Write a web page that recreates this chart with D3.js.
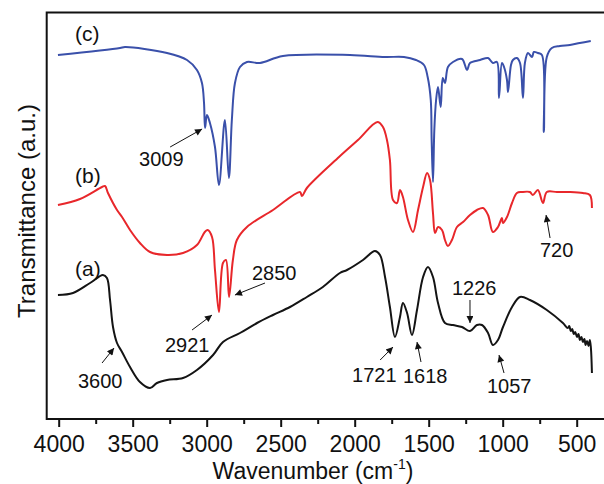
<!DOCTYPE html>
<html>
<head>
<meta charset="utf-8">
<script src="https://cdn.jsdelivr.net/npm/d3@7"></script>
<style>
  html, body { margin: 0; padding: 0; background: #fff; }
  svg { display: block; font-family: "Liberation Sans", Arial, sans-serif; }
</style>
</head>
<body>
<svg id="chart" width="604" height="484"></svg>
<script>
// ---------- DATA ----------
// x tick labels (wavenumber, cm-1)
const majorTicks = [4000, 3500, 3000, 2500, 2000, 1500, 1000, 500];
const minorTicks = [3750, 3250, 2750, 2250, 1750, 1250, 750];

// Series (c) – blue
const waveC = [4005,3586,3552,3268,3133,3066,3032,3018,3011,2998,2978,2944,2917,2877,2850,2830,2809,2775,2728,2640,2485,2032,
  1796,1667,1586,1532,1507,1486,1480,1471,1462,1450,1437,1419,1405,1390,1370,1336,1275,1241,1221,1153,1099,1066,1039,1025,1005,991,971,964,944,931,904,883,863,850,829,802,789,762,735,722,702,668,614,546,479,405];
const transC = [364,371,372,366,359,349,336,316,291,304,296,272,234,299,241,299,336,352,357,356,363,364,
  362,362,359,354,342,319,279,237,289,319,332,312,341,336,352,357,360,349,356,359,361,356,357,321,356,352,339,327,354,359,361,356,321,356,366,362,367,366,364,287,362,371,373,374,376,378];

// Series (b) – red
const waveB = [4005,3856,3707,3687,3667,3606,3572,3518,3451,3383,3268,3160,3066,3013,2993,2964,2944,2917,2890,2870,2849,2823,2796,2728,2552,2370,2356,2323,2106,1978,1846,1809,1782,1762,1741,1714,1694,1674,1640,1606,1572,1538,1511,1491,1471,1457,1437,1410,1390,1370,1343,1309,1268,1221,1174,1133,1099,1066,1032,1005,998,971,937,904,870,816,796,762,728,702,634,546,458,411,397];
const transB = [214,220,232,233,226,209,202,189,176,167,164,166,174,187,189,182,149,107,156,159,122,159,179,192,209,227,223,231,262,279,297,292,279,259,219,216,229,222,199,187,209,232,246,239,206,186,192,189,179,173,179,192,197,204,209,211,204,187,192,201,196,202,216,226,227,227,224,229,216,227,227,227,226,224,211];

// Series (a) – black
const waveA = [4005,3903,3788,3701,3674,3653,3633,3606,3572,3518,3451,3383,3336,3268,3160,3066,2957,2890,2775,2660,2552,2437,2323,2215,2100,2052,1944,1863,1829,1795,1762,1728,1694,1674,1646,1613,1579,1538,1505,1471,1437,1390,1336,1275,1221,1174,1140,1099,1066,1032,998,937,883,816,702,593,560,550,540,530,520,510,498,488,478,468,458,448,440,430,420,411,404,397];
const transA = [124,126,136,144,141,119,92,76,67,52,37,31,36,39,41,49,64,77,86,96,104,112,122,132,146,149,159,168,164,142,112,82,102,116,106,84,109,142,152,142,116,96,94,92,88,94,94,86,74,79,92,112,122,119,109,96,91,93,88,90,85,87,82,85,79,82,77,80,74,78,73,79,71,46];

const seriesNames = ["(a)", "(b)", "(c)"];

// ---------- LAYOUT ----------
const svg = d3.select("#chart");
const plot = { left: 46.7, top: 12.5, right: 620, bottom: 419 };
const x = d3.scaleLinear().domain([4081, 302]).range([plot.left, 606]);
const y = d3.scaleLinear().domain([0, 406.5]).range([plot.bottom, plot.top]);

svg.append("defs").append("clipPath").attr("id", "clip")
  .append("rect").attr("x", plot.left).attr("y", plot.top)
  .attr("width", 604 - plot.left).attr("height", plot.bottom - plot.top);

const marker = svg.select("defs").append("marker")
  .attr("id", "arrow").attr("viewBox", "0 0 10 10")
  .attr("refX", 10).attr("refY", 5)
  .attr("markerUnits", "userSpaceOnUse")
  .attr("markerWidth", 10).attr("markerHeight", 7)
  .attr("orient", "auto");
marker.append("path").attr("d", "M0,0 L10,5 L0,10 Z").attr("fill", "#111");

const line = d3.line()
  .x(d => x(d[0])).y(d => y(d[1]))
  .curve(d3.curveCatmullRom.alpha(0.5));

const zipSeries = (w, t) => w.map((v, i) => [v, t[i]]);
const series = [
  { data: zipSeries(waveA, transA), color: "#141414" },
  { data: zipSeries(waveB, transB), color: "#e8272b" },
  { data: zipSeries(waveC, transC), color: "#3a50aa" }
];

const g = svg.append("g").attr("clip-path", "url(#clip)");
series.forEach(s => {
  g.append("path").datum(s.data)
    .attr("fill", "none").attr("stroke", s.color)
    .attr("stroke-width", 2).attr("stroke-linejoin", "round")
    .attr("d", line);
});

// frame
svg.append("rect")
  .attr("x", plot.left).attr("y", plot.top)
  .attr("width", plot.right - plot.left).attr("height", plot.bottom - plot.top)
  .attr("fill", "none").attr("stroke", "#111").attr("stroke-width", 2);

// x axis major
const axMajor = svg.append("g").attr("transform", `translate(0,${plot.bottom})`)
  .call(d3.axisBottom(x).tickValues(majorTicks).tickSize(8).tickPadding(9).tickFormat(d3.format("d")));
axMajor.select(".domain").remove();
axMajor.selectAll("line").attr("stroke", "#111").attr("stroke-width", 2);
axMajor.selectAll("text").attr("font-size", 23).attr("fill", "#111")
  .attr("font-family", "'Liberation Sans', Arial, sans-serif");

const axMinor = svg.append("g").attr("transform", `translate(0,${plot.bottom})`)
  .call(d3.axisBottom(x).tickValues(minorTicks).tickSize(5).tickFormat(""));
axMinor.select(".domain").remove();
axMinor.selectAll("line").attr("stroke", "#111").attr("stroke-width", 2);

// axis titles
const xt = svg.append("text")
  .attr("x", 313).attr("y", 478.5).attr("text-anchor", "middle")
  .attr("font-size", 23).attr("fill", "#111");
xt.append("tspan").text("Wavenumber (cm");
xt.append("tspan").attr("font-size", 14).attr("dy", -10).text("-1");
xt.append("tspan").attr("dy", 10).text(")");

svg.append("text")
  .attr("transform", "translate(35,211) rotate(-90)")
  .attr("text-anchor", "middle").attr("font-size", 24).attr("fill", "#111")
  .text("Transmittance (a.u.)");

// series labels
const seriesLabelPos = [[3890, 143], [3890, 236], [3890, 378]];
seriesNames.forEach((n, i) => {
  svg.append("text")
    .attr("x", x(seriesLabelPos[i][0])).attr("y", y(seriesLabelPos[i][1]))
    .attr("font-size", 21).attr("fill", "#111").text(n);
});

// peak annotations: text anchor (w,v), arrow tail (w,v), arrow tip (w,v)
const annotations = [
  { label: "3009", text: [3457, 253], tail: [3247, 272], tip: [3031, 290] },
  { label: "2850", text: [2694, 139], tail: [2606, 136], tip: [2809, 124] },
  { label: "2921", text: [3282, 67],  tail: [3099, 89],  tip: [2964, 104] },
  { label: "3600", text: [3870, 31],  tail: [3707, 56],  tip: [3626, 71] },
  { label: "1721", text: [2018, 37],  tail: [1828, 59],  tip: [1741, 72] },
  { label: "1618", text: [1674, 36],  tail: [1552, 57],  tip: [1579, 77] },
  { label: "1057", text: [1106, 26],  tail: [991, 46],   tip: [1025, 64] },
  { label: "1226", text: [1343, 124], tail: [1221, 119], tip: [1221, 96] },
  { label: "720",  text: [748, 162],  tail: [680, 181],  tip: [707, 204] }
];
annotations.forEach(a => {
  svg.append("line")
    .attr("x1", x(a.tail[0])).attr("y1", y(a.tail[1]))
    .attr("x2", x(a.tip[0])).attr("y2", y(a.tip[1]))
    .attr("stroke", "#111").attr("stroke-width", 1)
    .attr("marker-end", "url(#arrow)");
  svg.append("text")
    .attr("x", x(a.text[0])).attr("y", y(a.text[1]))
    .attr("font-size", 20).attr("fill", "#111").text(a.label);
});
</script>
</body>
</html>
